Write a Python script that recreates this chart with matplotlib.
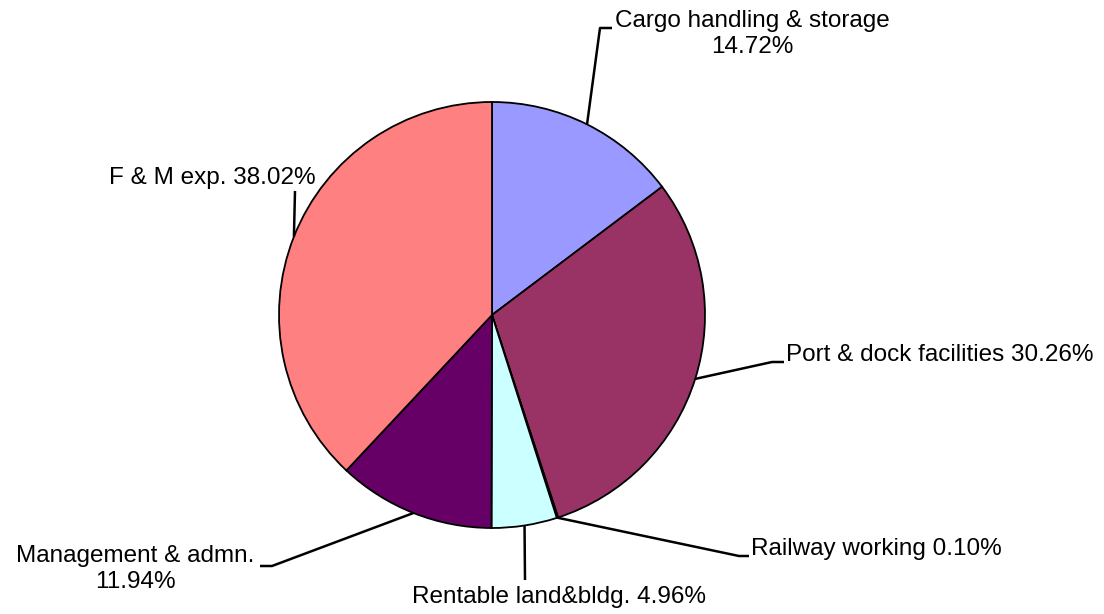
import numpy as np
import matplotlib.pyplot as plt

plt.rcParams['font.family'] = ['Liberation Sans', 'DejaVu Sans']

# Data
labels = ["Cargo handling & storage", "Port & dock facilities", "Railway working",
          "Rentable land&bldg.", "Management & admn.", "F & M exp."]
shares = [14.72, 30.26, 0.10, 4.96, 11.94, 38.02]
colors = ["#9999FF", "#993366", "#FFFFCC", "#CCFFFF", "#660066", "#FF8080"]

W, H = 1104, 614
fig = plt.figure(figsize=(W / 100, H / 100), dpi=100)
ax = fig.add_axes([0, 0, 1, 1])

cx, cy, r = 492, H - 315, 213
ax.pie(shares, colors=colors, startangle=90, counterclock=False, radius=r,
       center=(cx, cy), frame=True,
       wedgeprops=dict(edgecolor="black", linewidth=1.3))
ax.set_xlim(0, W)
ax.set_ylim(0, H)
ax.set_aspect("equal")
ax.axis("off")

# leader line layout (pixel coords from top-left): elbow points, text pos, alignment
layout = [
    ([(600, 28), (612, 28)], (752, 34), "center", "Cargo handling & storage\n14.72%"),
    ([(772, 362), (784, 362)], (786, 355), "left", "Port & dock facilities 30.26%"),
    ([(739, 556), (749, 556)], (751, 549), "left", "Railway working 0.10%"),
    ([(525, 580)], (559, 597), "center", "Rentable land&bldg. 4.96%"),
    ([(272, 566), (260, 566)], (135, 569), "center", "Management & admn.\n11.94%"),
    ([(295, 191)], (316, 178), "right", "F & M exp. 38.02%"),
]

cum = np.cumsum([0] + shares[:-1])
for i, s in enumerate(shares):
    mid = np.deg2rad(90 - (cum[i] + s / 2) * 3.6)
    x0, y0 = cx + r * np.cos(mid), cy + r * np.sin(mid)
    pts, tpos, ha, txt = layout[i]
    xs = [x0] + [p[0] for p in pts]
    ys = [y0] + [H - p[1] for p in pts]
    ax.plot(xs, ys, color="black", linewidth=1.8, solid_capstyle="butt")
    ax.text(tpos[0], H - tpos[1], txt, ha=ha, va="center", fontsize=17.5,
            linespacing=1.2)

plt.savefig("out.png", dpi=100)
